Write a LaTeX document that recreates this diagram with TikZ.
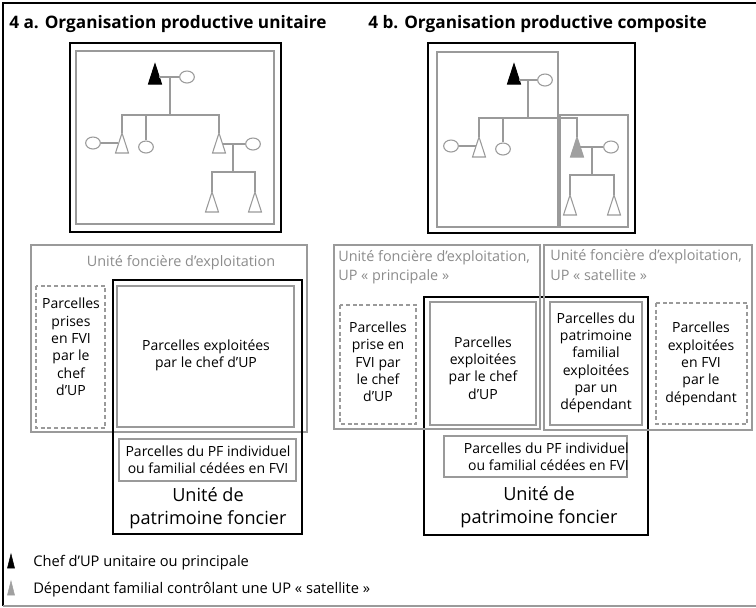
\documentclass[tikz,border=0pt]{standalone}
\usepackage{fontspec}
\setmainfont{Open Sans}
\usetikzlibrary{shapes.geometric}

\definecolor{grisligne}{HTML}{9A9A9A}
\definecolor{gristexte}{HTML}{8C8C8C}
\definecolor{grisdep}{HTML}{A0A0A0}

\tikzset{
  cadre/.style = {draw=black, line width=1.5pt},
  zone/.style = {draw=grisligne, line width=1.1pt},
  zonetiret/.style = {draw=grisligne, line width=0.8pt, dash pattern=on 3pt off 2pt},
  lien/.style = {draw=grisligne, line width=0.8pt},
  femme/.style = {ellipse, draw=grisligne, line width=0.8pt, fill=white,
    inner sep=0pt, minimum width=11pt, minimum height=9pt},
  titre/.style = {inner sep=0pt, font=\bfseries\fontsize{12.9}{15}\selectfont},
  texte/.style = {inner sep=0pt, align=center, font=\fontsize{10.5}{13}\selectfont},
  etiquette/.style = {inner sep=0pt, text=gristexte, font=\fontsize{10.8}{14.5}\selectfont},
  upf/.style = {inner sep=0pt, align=center, font=\fontsize{13.6}{17}\selectfont},
  legende/.style = {inner sep=0pt, font=\fontsize{11}{13}\selectfont}
}

% triangle : nom, sommet, trait, fond
\newcommand{\homme}[4]{%
  \coordinate (#1) at (#2);
  \filldraw [line width=0.8pt, draw=#3, fill=#4] (#1) -- ++(-6.5,20) -- ++(13,0) -- cycle;
}

\begin{document}
\begin{tikzpicture}[x=0.75pt, y=-0.75pt]
    \useasboundingbox (0,0) rectangle (756,607);
    \draw [line width=1.5pt] (3,606) -- (3,3) -- (756,3);
    \draw [grisligne, line width=1.5pt] (3,606) -- (756,606);

    \node [titre, anchor=west] (titreA) at (9,24) {4 a. Organisation productive unitaire};
    \node [titre, anchor=west] (titreB) at (368,24) {4 b. Organisation productive composite};

    % 4 a : genealogie
    \draw [cadre] (70,43) rectangle (281,232);
    \draw [zone] (76,51) rectangle (274,224);

    \homme{a0}{155,64}{black}{black}
    \homme{a1}{122,133}{grisligne}{white}
    \homme{a3}{219,133}{grisligne}{white}
    \homme{a4}{212,192}{grisligne}{white}
    \homme{a5}{255,192}{grisligne}{white}
    \node [femme] (a0f) at (187,77) {};
    \node [femme] (a1f) at (93,143) {};
    \node [femme] (a2) at (146,147) {};
    \node [femme] (a3f) at (253,144) {};
    \draw [lien] (159,77) -- (a0f);
    \draw [lien] (170,77) -- (170,115);
    \draw [lien] (a1) -- ++(0,-18) -| (a3);
    \draw [lien] (a1f) -- (118,143);
    \draw [lien] (a2.north) -- (146,115);
    \draw [lien] (223,144) -- (a3f);
    \draw [lien] (233,144) -- (233,172);
    \draw [lien] (a4) -- ++(0,-20) -| (a5);

    % 4 b : genealogie
    \draw [cadre] (428,43) rectangle (635,233);
    \draw [zone] (437,52) rectangle (558,227);
    \draw [zone] (560,115) rectangle (628,227);

    \homme{b0}{514,64}{black}{black}
    \homme{b1}{479,137}{grisligne}{white}
    \homme{b3}{577,137}{grisdep}{grisdep}
    \homme{b4}{570,195}{grisligne}{white}
    \homme{b5}{614,195}{grisligne}{white}
    \node [femme] (b0f) at (545,80) {};
    \node [femme] (b1f) at (451,146) {};
    \node [femme] (b2) at (503,149) {};
    \node [femme] (b3f) at (611,147) {};
    \draw [lien] (519,80) -- (b0f);
    \draw [lien] (528,80) -- (528,118);
    \draw [lien] (b1) -- ++(0,-19) -| (b3);
    \draw [lien] (b1f) -- (476,146);
    \draw [lien] (b2.north) -- (503,118);
    \draw [lien] (580,147) -- (b3f);
    \draw [lien] (592,147) -- (592,175);
    \draw [lien] (b4) -- ++(0,-20) -| (b5);

    % 4 a : parcelles
    \draw [zone] (31,245) rectangle (307,432);
    \node [etiquette] (ufeA) at (181,263) {Unité foncière d’exploitation};
    \draw [zonetiret] (36,286) rectangle (105,428);
    \node [texte] (fviA) at (71,347) {Parcelles\\prises\\en FVI\\par le\\chef\\d’UP};
    \draw [cadre] (113,280) rectangle (302,534);
    \draw [zone] (117,286) rectangle (294,427);
    \node [texte] (chefA) at (206,355) {Parcelles exploitées\\par le chef d’UP};
    \draw [zone] (119,439) rectangle (296,481);
    \node [texte] (pfA) at (208,460) {Parcelles du PF individuel\\ou familial cédées en FVI};
    \node [upf] (upfA) at (208,508) {Unité de\\patrimoine foncier};

    % 4 b : parcelles
    \draw [cadre] (424,297) rectangle (648,535);
    \draw [zone] (334,245) rectangle (540,429);
    \draw [zone] (544,245) rectangle (752,430);
    \node [etiquette, align=left, anchor=west] (ufeB) at (338,267)
      {Unité foncière d’exploitation,\\UP «~principale~»};
    \node [etiquette, align=left, anchor=west] (ufeC) at (550,265)
      {Unité foncière d’exploitation,\\UP «~satellite~»};
    \draw [zonetiret] (340,305) rectangle (416,424);
    \node [texte] (fviB) at (378,362) {Parcelles\\prise en\\FVI par\\le chef\\d’UP};
    \draw [zone] (430,302) rectangle (536,425);
    \node [texte] (chefB) at (483,368) {Parcelles\\exploitées\\par le chef\\d’UP};
    \draw [zone] (550,302) rectangle (642,425);
    \node [texte] (depB) at (596,363) {Parcelles du\\patrimoine\\familial\\exploitées\\par un\\dépendant};
    \draw [zonetiret] (656,303) rectangle (747,424);
    \node [texte] (fviC) at (701,364) {Parcelles\\exploitées\\en FVI\\par le\\dépendant};
    \draw [zone] (444,436) rectangle (627,477);
    \node [texte, align=right, anchor=east] (pfB) at (629,457)
      {Parcelles du PF individuel\\ou familial cédées en FVI};
    \node [upf] (upfB) at (539,507) {Unité de\\patrimoine foncier};

    % legende
    \filldraw [black] (11,554) -- (14.5,568) -- (7.5,568) -- cycle;
    \node [legende, anchor=west] (legA) at (33,563) {Chef d’UP unitaire ou principale};
    \filldraw [grisdep] (11,581) -- (14.5,595) -- (7.5,595) -- cycle;
    \node [legende, anchor=west] (legB) at (33,590) {Dépendant familial contrôlant une UP «~satellite~»};
\end{tikzpicture}
\end{document}
